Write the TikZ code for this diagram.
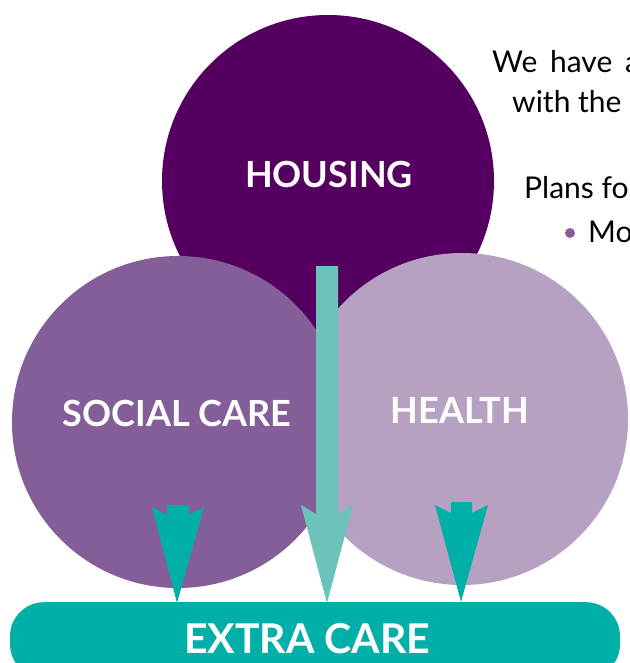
\documentclass[tikz,border=0pt]{standalone}
\usepackage{fontspec}
\setmainfont{Lato}
\definecolor{housing}{RGB}{85,0,96}
\definecolor{social}{RGB}{132,94,152}
\definecolor{health}{RGB}{183,161,195}
\definecolor{lteal}{RGB}{107,195,185}
\definecolor{dteal}{RGB}{0,175,168}
\begin{document}
\begin{tikzpicture}[x=1pt,y=-1pt,
  circ/.style={circle,minimum size=332pt,inner sep=0pt,outer sep=0pt},
  lbl/.style={text=white,font=\fontsize{36}{40}\selectfont\bfseries},
  body/.style={text=black,font=\fontsize{30}{33}\selectfont,anchor=base west,inner sep=0pt}]
\useasboundingbox (0,0) rectangle (629,663);
\clip (0,0) rectangle (629,663);
% circles
\node[circ,fill=housing] (housing) at (328,181) {};
\begin{scope}
\clip (0,0) rectangle (327,663);
\node[circ,fill=social] (social) at (178,422) {};
\end{scope}
\begin{scope}
\clip (327,0) rectangle (629,663);
\node[circ,fill=health] (health) at (462,419) {};
\end{scope}
% labels
\node[lbl] at (329,174) {HOUSING};
\node[lbl] at (177,413) {SOCIAL CARE};
\node[lbl] at (460,410) {HEALTH};
% bar
\node[fill=dteal,rounded corners=34pt,minimum width=610pt,minimum height=76pt,inner sep=0pt,anchor=north] (extra) at (315,602) {};
\node[text=white,font=\fontsize{41}{44}\selectfont\bfseries,anchor=base,inner sep=0pt] at (307,653) {EXTRA CARE};
% arrows
\fill[dteal] (167,505) -- (189,505) -- (189,515) -- (204,507) -- (177,603) -- (152,507) -- (167,515) -- cycle;
\fill[lteal] (316,266) -- (338,266) -- (338,514) -- (353,505) -- (327,603) -- (301,505) -- (316,514) -- cycle;
\fill[dteal] (451,502) -- (472,502) -- (472,513) -- (488,505) -- (461,602) -- (435,505) -- (451,513) -- cycle;
% body text
\node[body] (t1) at (492,73) {We\hspace{5pt} have\hspace{5pt} a};
\node[body] (t2) at (512,113) {with the};
\node[body] (t3) at (524,198) {Plans for};
\fill[social] (570,233) circle (5);
\node[body] (t4) at (588,242) {Mo};
\end{tikzpicture}
\end{document}
